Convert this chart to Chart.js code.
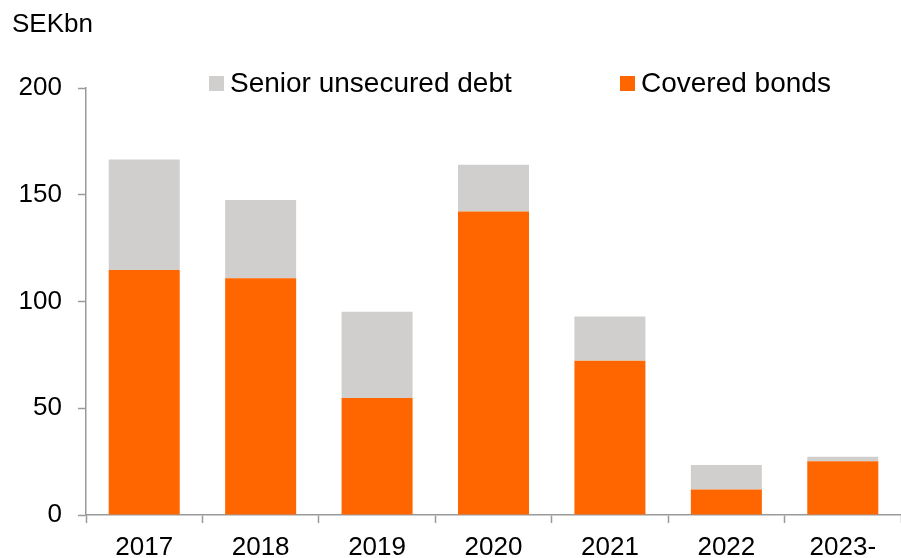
<!DOCTYPE html>
<html>
<head>
<meta charset="utf-8">
<script src="https://cdn.jsdelivr.net/npm/chart.js@4/dist/chart.umd.min.js"></script>
<style>
  html, body { margin: 0; padding: 0; background: #ffffff; }
  #wrap { width: 901px; height: 558px; position: relative; }
</style>
</head>
<body>
<div id="wrap"><canvas id="c" width="901" height="558"></canvas></div>
<script>
// Funding maturities by year, SEK billions
const years = ['2017', '2018', '2019', '2020', '2021', '2022', '2023-'];
const coveredBonds = [114.8, 110.9, 54.8, 142.2, 72.3, 11.9, 25.2];
const seniorUnsecured = [51.7, 36.6, 40.4, 21.9, 20.7, 11.5, 2.1];
const yTicks = [0, 50, 100, 150, 200];

const ORANGE = '#FF6600';
const GREY = '#D0CFCD';
const AXIS = '#9a9a9a';
const FONT = 'Liberation Sans, Arial, sans-serif';

// Unit label above the value axis and the legend inside the plot top
const decorations = {
  id: 'decorations',
  afterDraw(chart) {
    const ctx = chart.ctx;
    ctx.save();
    ctx.fillStyle = '#000000';
    ctx.textBaseline = 'middle';
    ctx.font = '26px ' + FONT;
    ctx.textAlign = 'left';
    ctx.fillText('SEKbn', 12, 25);

    const items = [
      { ds: chart.data.datasets[1], x: 209 },
      { ds: chart.data.datasets[0], x: 620 }
    ];
    ctx.font = '28px ' + FONT;
    items.forEach(it => {
      ctx.fillStyle = it.ds.backgroundColor;
      ctx.fillRect(it.x, 76, 15, 15);
      ctx.fillStyle = '#000000';
      ctx.fillText(it.ds.label, it.x + 21, 84);
    });
    ctx.restore();
  }
};

new Chart(document.getElementById('c'), {
  type: 'bar',
  data: {
    labels: years,
    datasets: [
      { label: 'Covered bonds', data: coveredBonds, backgroundColor: ORANGE, borderWidth: 0 },
      { label: 'Senior unsecured debt', data: seniorUnsecured, backgroundColor: GREY, borderWidth: 0 }
    ]
  },
  options: {
    responsive: false,
    animation: false,
    devicePixelRatio: 1,
    layout: { padding: { top: 88, right: 0, bottom: 0, left: 0 } },
    datasets: { bar: { categoryPercentage: 1.0, barPercentage: 0.61 } },
    plugins: { legend: { display: false }, title: { display: false }, tooltip: { enabled: false } },
    scales: {
      x: {
        stacked: true,
        afterFit(scale) { scale.height = 43; },
        grid: { display: true, offset: true, drawOnChartArea: false, drawTicks: true, tickLength: 8, tickColor: AXIS, tickWidth: 1.5 },
        border: { display: true, color: AXIS, width: 1.5 },
        ticks: { color: '#000000', font: { family: FONT, size: 26 }, padding: 9, maxRotation: 0, autoSkip: false }
      },
      y: {
        stacked: true,
        min: 0,
        max: 200,
        afterFit(scale) { scale.width = 86; },
        afterBuildTicks(scale) { scale.ticks = yTicks.map(v => ({ value: v })); },
        grid: { display: true, drawOnChartArea: false, drawTicks: true, tickLength: 8, tickColor: AXIS, tickWidth: 1.5 },
        border: { display: true, color: AXIS, width: 1.5 },
        ticks: { color: '#000000', font: { family: FONT, size: 26 }, padding: 16 }
      }
    }
  },
  plugins: [decorations]
});
</script>
</body>
</html>
